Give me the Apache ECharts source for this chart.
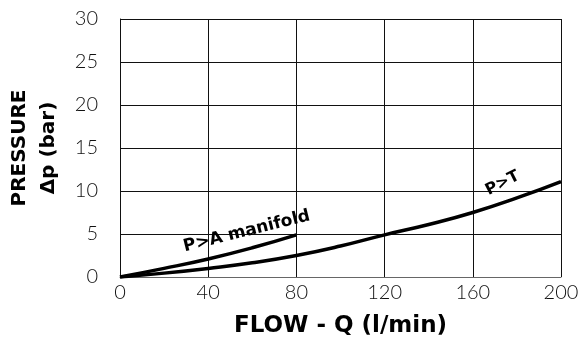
<!DOCTYPE html>
<html>
<head>
<meta charset="utf-8">
<script src="https://cdn.jsdelivr.net/npm/echarts@6/dist/echarts.min.js"></script>
<style>
  html, body { margin: 0; padding: 0; background: #fff; }
  #chart { width: 579px; height: 340px; }
</style>
</head>
<body>
<div id="chart"></div>
<script>
var chart = echarts.init(document.getElementById('chart'));

// flow (l/min) and pressure drop (bar)
var flowPA = [0, 20, 40, 60, 80];
var pressurePA = [0, 1.0, 2.1, 3.4, 4.9];
var flowPT = [0, 20, 40, 60, 80, 100, 120, 140, 160, 180, 200];
var pressurePT = [0, 0.45, 1.0, 1.65, 2.5, 3.6, 4.9, 6.1, 7.5, 9.2, 11.1];

var xTicks = [0, 40, 80, 120, 160, 200];
var yTicks = [0, 5, 10, 15, 20, 25, 30];

function pairs(xs, ys) {
    return xs.map(function (x, i) { return [x, ys[i]]; });
}

var tickFont = 'Lato, "Open Sans", sans-serif';
var boldFont = '"DejaVu Sans", sans-serif';

var option = {
    animation: false,
    grid: { left: 120, right: 18, top: 19, bottom: 63, outerBoundsMode: 'none', containLabel: false },
    xAxis: {
        type: 'value',
        min: xTicks[0],
        max: xTicks[xTicks.length - 1],
        interval: 40,
        name: 'FLOW - Q (l/min)',
        nameLocation: 'middle',
        nameGap: 38,
        nameTextStyle: { fontFamily: boldFont, fontWeight: 'bold', fontSize: 23, color: '#000' },
        axisLine: { show: true, lineStyle: { color: '#666', width: 1 } },
        axisTick: { show: false },
        axisLabel: { fontFamily: tickFont, fontSize: 20, fontWeight: 300, color: '#111', margin: 6 },
        splitLine: { show: true, lineStyle: { color: '#111', width: 1 } }
    },
    yAxis: {
        type: 'value',
        min: yTicks[0],
        max: yTicks[yTicks.length - 1],
        interval: 5,
        name: 'PRESSURE\nΔp (bar)',
        nameLocation: 'middle',
        nameRotate: 90,
        nameGap: 57,
        nameTextStyle: { fontFamily: boldFont, fontWeight: 'bold', fontSize: 20, color: '#000', lineHeight: 29 },
        axisLine: { show: true, lineStyle: { color: '#111', width: 1 } },
        axisTick: { show: false },
        axisLabel: { fontFamily: tickFont, fontSize: 20, fontWeight: 300, color: '#111', margin: 22 },
        splitLine: { show: true, lineStyle: { color: '#111', width: 1 } }
    },
    series: [
        {
            name: 'P>A manifold',
            type: 'line',
            smooth: true,
            symbol: 'none',
            lineStyle: { color: '#000', width: 3.5 },
            data: pairs(flowPA, pressurePA),
            markPoint: {
                symbol: 'circle',
                symbolSize: 0,
                data: [{ coord: [57.5, 5.3], value: 'P>A manifold' }],
                label: {
                    show: true,
                    formatter: 'P>A manifold',
                    rotate: 14,
                    fontFamily: boldFont,
                    fontWeight: 'bold',
                    fontSize: 17,
                    color: '#000'
                }
            }
        },
        {
            name: 'P>T',
            type: 'line',
            smooth: true,
            symbol: 'none',
            lineStyle: { color: '#000', width: 3.5 },
            data: pairs(flowPT, pressurePT),
            markPoint: {
                symbol: 'circle',
                symbolSize: 0,
                data: [{ coord: [173.5, 10.9], value: 'P>T' }],
                label: {
                    show: true,
                    formatter: 'P>T',
                    rotate: 27,
                    fontFamily: boldFont,
                    fontWeight: 'bold',
                    fontSize: 16,
                    color: '#000'
                }
            }
        }
    ]
};

chart.setOption(option);
</script>
</body>
</html>
